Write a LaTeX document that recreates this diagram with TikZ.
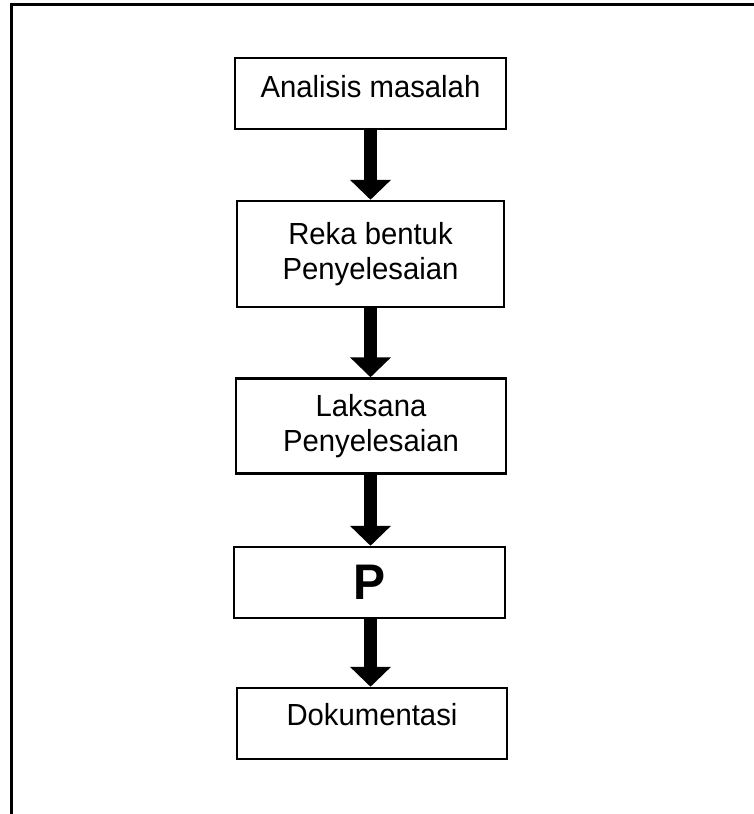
\documentclass[tikz,border=0pt]{standalone}
\usepackage{fontspec}
\setmainfont{Liberation Sans}[FakeStretch=0.96]
\usetikzlibrary{arrows.meta}
\begin{document}
\begin{tikzpicture}[x=1pt,y=-1pt,
  stepbox/.style={draw, line width=2.5pt, inner sep=0pt, align=center,
    font=\fontsize{30.5}{35}\selectfont},
  flow/.style={line width=13pt, -{Triangle[width=40pt,length=20pt]}}]
\useasboundingbox (0,0) rectangle (754,814);
\fill[white] (0,0) rectangle (754,814);
\draw[line width=3pt, line join=miter] (11.5,814) -- (11.5,4.5) -- (754,4.5);
\node[stepbox, minimum width=271pt, minimum height=71pt, text height=22pt, text depth=14pt] (b1) at (370.5,93.5) {Analisis masalah};
\node[stepbox, minimum width=267pt, minimum height=106pt] (b2) at (370.5,254) {Reka bentuk\\Penyelesaian};
\node[stepbox, minimum width=270pt, minimum height=95pt] (b3) at (371,426) {Laksana\\Penyelesaian};
\node[stepbox, minimum width=271pt, minimum height=71pt, font=\fontsize{50}{54}\selectfont\bfseries] (b4) at (369.5,582.5) {P};
\node[stepbox, minimum width=270pt, minimum height=71pt, text height=22pt, text depth=19pt] (b5) at (372,723.5) {Dokumentasi};
\draw[flow] (b1.south) -- (b1.south |- b2.north);
\draw[flow] (b1.south |- b2.south) -- (b1.south |- b3.north);
\draw[flow] (b1.south |- b3.south) -- (b1.south |- b4.north);
\draw[flow] (b1.south |- b4.south) -- (b1.south |- b5.north);
\end{tikzpicture}
\end{document}
